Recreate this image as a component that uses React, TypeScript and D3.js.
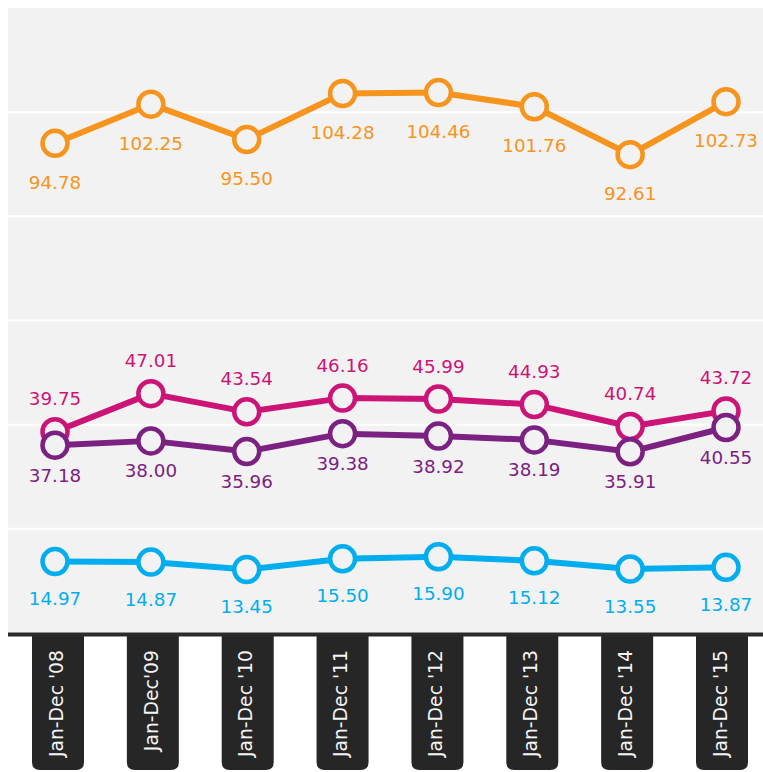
import React from "react";
import * as d3 from "d3";

const categories = ["Jan-Dec '08", "Jan-Dec'09", "Jan-Dec '10", "Jan-Dec '11", "Jan-Dec '12", "Jan-Dec '13", "Jan-Dec '14", "Jan-Dec '15"];
const orangeValues = [94.78, 102.25, 95.5, 104.28, 104.46, 101.76, 92.61, 102.73];
const pinkValues = [39.75, 47.01, 43.54, 46.16, 45.99, 44.93, 40.74, 43.72];
const purpleValues = [37.18, 38.0, 35.96, 39.38, 38.92, 38.19, 35.91, 40.55];
const blueValues = [14.97, 14.87, 13.45, 15.5, 15.9, 15.12, 13.55, 13.87];

const W = 763;
const H = 772;
const plotLeft = 8;
const plotTop = 8;
const plotBottom = 633;
const FONT = "'DejaVu Sans', Verdana, sans-serif";

const series = [
  { name: "orange", values: orangeValues, color: "#f7941d", labelDy: 39 },
  { name: "pink", values: pinkValues, color: "#cc1477", labelDy: -33 },
  { name: "purple", values: purpleValues, color: "#7b2182", labelDy: 30 },
  { name: "blue", values: blueValues, color: "#00aeef", labelDy: 37 },
];

export default function App() {
  const x = d3.scalePoint<string>().domain(categories).range([55, 726]);
  const xTab = d3.scalePoint<string>().domain(categories).range([58, 722]);
  const y = d3.scaleLinear().domain([1.34, 120.6]).range([plotBottom, plotTop]);
  const [d0, d1] = y.domain();
  const grid = d3.range(1, 6).map((i) => d0 + (i * (d1 - d0)) / 6);
  const line = d3
    .line<number>()
    .x((_, i) => x(categories[i]) as number)
    .y((v) => y(v));

  const tabW = 52;
  const tabTop = plotBottom;
  const tabBottom = 770;
  const r = 8;
  const tabPath = (cx: number) => {
    const l = cx - tabW / 2;
    const rr = cx + tabW / 2;
    return `M${l},${tabTop} H${rr} V${tabBottom - r} Q${rr},${tabBottom} ${rr - r},${tabBottom} H${l + r} Q${l},${tabBottom} ${l},${tabBottom - r} Z`;
  };

  return (
    <svg
      width={W}
      height={H}
      style={{ position: "absolute", left: 0, top: 0, display: "block" }}
      fontFamily={FONT}
    >
      <rect x={0} y={0} width={W} height={H} fill="#ffffff" />
      <rect x={plotLeft} y={plotTop} width={W - plotLeft} height={plotBottom - plotTop} fill="#f2f2f2" />
      {grid.map((g, i) => (
        <line key={i} x1={plotLeft} x2={W} y1={y(g)} y2={y(g)} stroke="#ffffff" strokeWidth={2} />
      ))}
      {categories.map((c) => (
        <g key={c}>
          <path d={tabPath(xTab(c) as number)} fill="#262626" />
          <text
            transform={`translate(${(xTab(c) as number) - 2},650) rotate(-90)`}
            textAnchor="end"
            dy="0.36em"
            fontSize={18.8}
            fill="#f4f4f4"
          >
            {c}
          </text>
        </g>
      ))}
      <line x1={plotLeft} x2={W} y1={plotBottom + 1.5} y2={plotBottom + 1.5} stroke="#2a2a2a" strokeWidth={4} />
      {series.map((s) => (
        <g key={s.name}>
          <path d={line(s.values) || ""} fill="none" stroke={s.color} strokeWidth={6} strokeLinejoin="round" />
          {s.values.map((v, i) => (
            <circle
              key={i}
              cx={x(categories[i]) as number}
              cy={y(v)}
              r={12.5}
              fill="#f2f2f2"
              stroke={s.color}
              strokeWidth={4.5}
            />
          ))}
          {s.values.map((v, i) => (
            <text
              key={"t" + i}
              x={x(categories[i]) as number}
              y={y(v) + s.labelDy}
              dy="0.36em"
              textAnchor="middle"
              fontSize={18.3}
              fill={s.color}
            >
              {v.toFixed(2)}
            </text>
          ))}
        </g>
      ))}
    </svg>
  );
}
